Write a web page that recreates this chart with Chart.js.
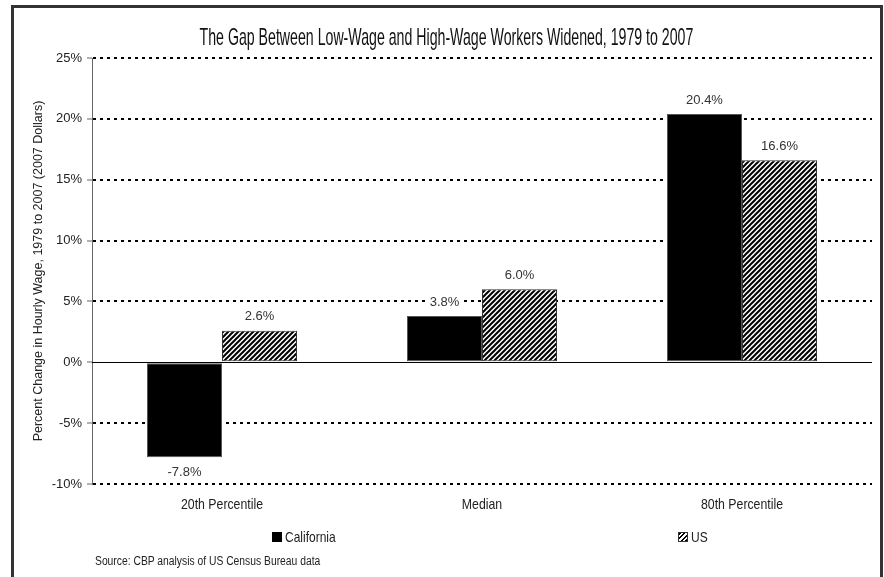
<!DOCTYPE html>
<html>
<head>
<meta charset="utf-8">
<script src="https://cdn.jsdelivr.net/npm/chart.js@4.4.1/dist/chart.umd.min.js"></script>
<style>
  html, body { margin: 0; padding: 0; background: #fff; }
  #wrap { position: relative; width: 884px; height: 577px; overflow: hidden; }
  #chart { position: absolute; left: 0; top: 0; }
  #frame { position: absolute; left: 11px; top: 5px; width: 866px; height: 620px;
           border: 3px solid #333; pointer-events: none; }
  .narrow { font-family: "Liberation Sans", Arial, sans-serif; color: #222; white-space: nowrap;
            display: inline-block; transform-origin: left center; }
  #title { position: absolute; left: 0; width: 892px; top: 23px; text-align: center; }
  #title span { font-size: 24px; color: #111; transform: scaleX(0.59); transform-origin: center; }
  .legend { position: absolute; top: 528px; display: flex; align-items: center; }
  .legend i { display: inline-block; width: 10px; height: 10px; margin-right: 3px; box-sizing: border-box; }
  .legend span { font-size: 15px; transform: scaleX(0.8); }
  #source { position: absolute; left: 95px; top: 554px; font-size: 12px; transform: scaleX(0.86); }
</style>
</head>
<body>
<div id="wrap">
  <canvas id="chart" width="884" height="577"></canvas>
  <div id="frame"></div>
  <div id="title"><span class="narrow">The Gap Between Low-Wage and High-Wage Workers Widened, 1979 to 2007</span></div>
  <div class="legend" style="left:272px"><i style="background:#000"></i><span class="narrow">California</span></div>
  <div class="legend" style="left:678px"><i style="border:1px solid #333;background:repeating-linear-gradient(135deg,#000 0 1.6px,#fff 1.6px 3.2px)"></i><span class="narrow">US</span></div>
  <div id="source" class="narrow">Source: CBP analysis of US Census Bureau data</div>
</div>
<script>
const categories = ['20th Percentile', 'Median', '80th Percentile'];
const california = [-7.8, 3.8, 20.4];
const us = [2.6, 6.0, 16.6];
const yTicks = [-10, -5, 0, 5, 10, 15, 20, 25];

const SANS = '"Liberation Sans", Arial, sans-serif';

// trama diagonal para la serie US
function makeHatch() {
  const c = document.createElement('canvas');
  const s = 5;
  c.width = s; c.height = s;
  const g = c.getContext('2d');
  g.fillStyle = '#fff';
  g.fillRect(0, 0, s, s);
  g.strokeStyle = '#000';
  g.lineWidth = 2;
  g.beginPath();
  g.moveTo(0, s); g.lineTo(s, 0);
  g.moveTo(-1, 1); g.lineTo(1, -1);
  g.moveTo(s - 1, s + 1); g.lineTo(s + 1, s - 1);
  g.stroke();
  return g.createPattern(c, 'repeat');
}

// línea del cero sólida
const zeroLine = {
  id: 'zeroLine',
  beforeDatasetsDraw(chart) {
    const { ctx, chartArea, scales } = chart;
    const y = Math.round(scales.y.getPixelForValue(0)) + 0.5;
    ctx.save();
    ctx.strokeStyle = '#000';
    ctx.lineWidth = 1;
    ctx.beginPath();
    ctx.moveTo(chartArea.left, y);
    ctx.lineTo(chartArea.right, y);
    ctx.stroke();
    ctx.restore();
  }
};

// etiquetas de categoría en letra estrecha
const narrowCategories = {
  id: 'narrowCategories',
  afterDraw(chart) {
    const { ctx, chartArea, scales } = chart;
    ctx.save();
    ctx.font = '15px ' + SANS;
    ctx.fillStyle = '#222';
    ctx.textAlign = 'center';
    ctx.textBaseline = 'middle';
    chart.data.labels.forEach((lab, i) => {
      ctx.save();
      ctx.translate(scales.x.getPixelForTick(i), chartArea.bottom + 21);
      ctx.scale(0.82, 1);
      ctx.fillText(lab, 0, 0);
      ctx.restore();
    });
    ctx.restore();
  }
};

// etiquetas de valores con fondo blanco
const valueLabels = {
  id: 'valueLabels',
  afterDatasetsDraw(chart) {
    const { ctx } = chart;
    ctx.save();
    ctx.font = '13px ' + SANS;
    ctx.textAlign = 'center';
    ctx.textBaseline = 'middle';
    chart.data.datasets.forEach((ds, di) => {
      chart.getDatasetMeta(di).data.forEach((bar, i) => {
        const v = ds.data[i];
        const txt = v.toFixed(1) + '%';
        const y = v >= 0 ? bar.y - 15 : bar.y + 14;
        const w = ctx.measureText(txt).width + 4;
        ctx.fillStyle = '#fff';
        ctx.fillRect(bar.x - w / 2, y - 8, w, 16);
        ctx.fillStyle = '#333';
        ctx.fillText(txt, bar.x, y + 1);
      });
    });
    ctx.restore();
  }
};

new Chart(document.getElementById('chart'), {
  type: 'bar',
  data: {
    labels: categories,
    datasets: [
      {
        label: 'California',
        data: california,
        backgroundColor: '#000',
        borderColor: '#555',
        borderWidth: 1,
        borderSkipped: false
      },
      {
        label: 'US',
        data: us,
        backgroundColor: makeHatch(),
        borderColor: '#333',
        borderWidth: 1,
        borderSkipped: false
      }
    ]
  },
  options: {
    responsive: false,
    animation: false,
    datasets: { bar: { barPercentage: 1, categoryPercentage: 0.577 } },
    layout: { padding: { top: 58, left: 27, right: 12, bottom: 93 } },
    plugins: {
      legend: { display: false },
      tooltip: { enabled: false },
      title: { display: false }
    },
    scales: {
      x: {
        grid: { display: false },
        border: { display: false },
        ticks: { display: false },
        afterFit(scale) { scale.height = 0; }
      },
      y: {
        min: -10,
        max: 25,
        afterBuildTicks(scale) { scale.ticks = yTicks.map(v => ({ value: v })); },
        afterFit(scale) { scale.width = 65; },
        ticks: {
          color: '#222',
          padding: 5,
          font: { family: SANS, size: 13 },
          callback: v => v + '%'
        },
        grid: {
          color: ctx => (ctx.tick && ctx.tick.value === 0) ? 'rgba(0,0,0,0)' : '#000',
          lineWidth: 2,
          tickColor: '#666',
          tickWidth: 1,
          tickLength: 5
        },
        border: { display: true, color: '#666', width: 1, dash: [3, 4] },
        title: {
          display: true,
          text: 'Percent Change in Hourly Wage, 1979 to 2007 (2007 Dollars)',
          color: '#222',
          font: { family: SANS, size: 12.5 }
        }
      }
    }
  },
  plugins: [zeroLine, valueLabels, narrowCategories]
});
</script>
</body>
</html>
